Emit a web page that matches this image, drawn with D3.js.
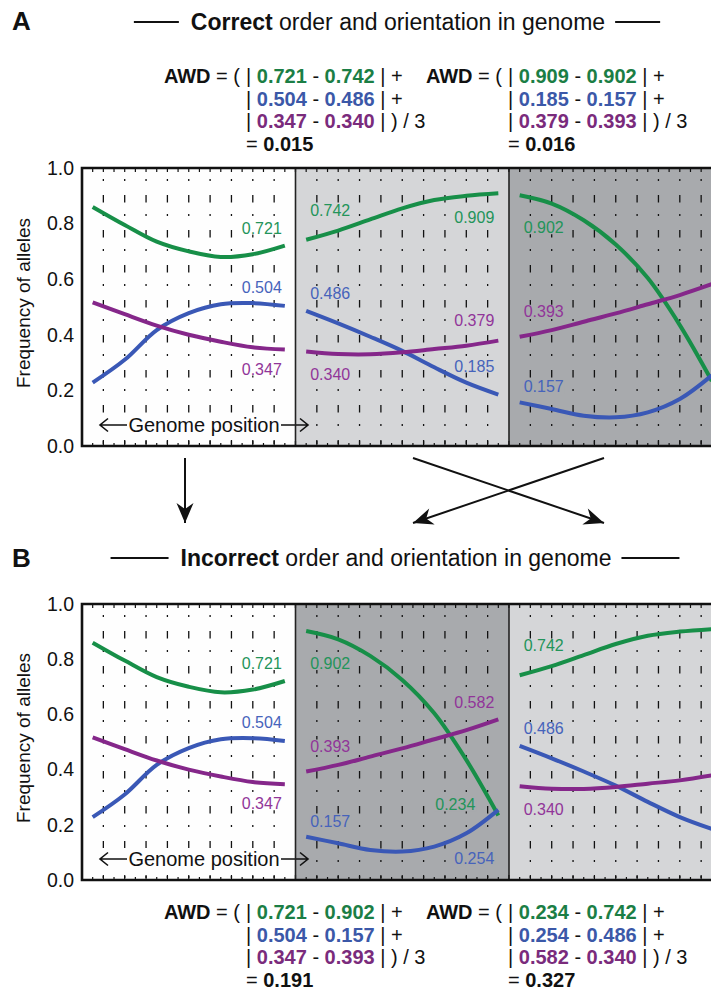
<!DOCTYPE html>
<html>
<head>
<meta charset="utf-8">
<script src="https://cdnjs.cloudflare.com/ajax/libs/d3/7.8.5/d3.min.js"></script>
<style>
  body { margin: 0; background: #fff; }
  svg { display: block; font-family: "Liberation Sans", Arial, sans-serif; }
  text { white-space: pre; }
</style>
</head>
<body>
<svg id="fig" width="711" height="997"></svg>
<script>
// allele frequencies along each contig, sampled at these genome positions (0..10 per contig)
var positions = [0.5, 2, 3.5, 5, 6.5, 8, 9.5];
var contigs = ["white", "light", "dark"];
var greenFreq = [
  [0.860, 0.795, 0.735, 0.700, 0.680, 0.690, 0.721],
  [0.742, 0.775, 0.815, 0.855, 0.885, 0.900, 0.909],
  [0.902, 0.872, 0.812, 0.725, 0.604, 0.435, 0.234]
];
var blueFreq = [
  [0.228, 0.310, 0.417, 0.478, 0.510, 0.514, 0.504],
  [0.486, 0.441, 0.393, 0.342, 0.283, 0.228, 0.185],
  [0.157, 0.133, 0.109, 0.103, 0.121, 0.169, 0.254]
];
var purpleFreq = [
  [0.517, 0.474, 0.433, 0.400, 0.375, 0.355, 0.347],
  [0.340, 0.331, 0.330, 0.337, 0.349, 0.361, 0.379],
  [0.393, 0.417, 0.447, 0.477, 0.510, 0.543, 0.582]
];
var orderA = [0, 1, 2];   // correct
var orderB = [0, 2, 1];   // incorrect
var yTicks = [0, 0.2, 0.4, 0.6, 0.8, 1.0];

var series = [greenFreq, blueFreq, purpleFreq];
var lineColors = ["#178f48", "#3a58b6", "#85278a"];
var textColors = ["#23945a", "#4663bb", "#913599"];
var formulaColors = ["#1b7e45", "#3b58a8", "#7a2b7c"];
var contigFill = ["#fefefe", "#d5d6d8", "#a8aaad"];

// label offsets [dx, dy] from the line's start / end point
var labelLayout = [
  { end: [[-3, -12], [-3, -13], [-3, 25]] },
  { start: [[4, -24], [4, -12], [4, 29]], end: [[-4, 30], [-4, -23], [-4, -15]] },
  { start: [[4, 38], [4, -10], [4, -20]], end: [[-23, -5], [-4, 54], [-4, -11]] }
];

var svg = d3.select("#fig");
svg.append("rect").attr("width", 711).attr("height", 997).attr("fill", "#fff");

var x0 = 82, segW = 213.5;
var fmt3 = d3.format(".3f");

function drawPanel(order, top, bottom) {
  var g = svg.append("g");
  var y = d3.scaleLinear().domain([0, 1]).range([bottom, top]);
  var xs = [];

  order.forEach(function(c, slot) {
    var x = d3.scaleLinear().domain([0, 10]).range([x0 + slot * segW, x0 + (slot + 1) * segW]);
    xs.push(x);
    var seg = g.append("g");
    seg.append("rect")
      .attr("x", x(0)).attr("y", top)
      .attr("width", segW).attr("height", bottom - top)
      .attr("fill", contigFill[c]);
    // dashed grid
    seg.selectAll(".grid").data(d3.range(1, 10)).enter().append("line")
      .attr("x1", function(d) { return x(d); }).attr("x2", function(d) { return x(d); })
      .attr("y1", top + 11).attr("y2", bottom - 2)
      .attr("stroke", "#111").attr("stroke-width", 1.3)
      .attr("stroke-dasharray", "2,14,7.5,11.5");
    // ticks top & bottom
    var half = d3.range(0, 21).map(function(d) { return d / 2; });
    seg.selectAll(".tb").data(half).enter().append("line")
      .attr("x1", function(d) { return x(d); }).attr("x2", function(d) { return x(d); })
      .attr("y1", bottom).attr("y2", function(d) { return bottom - (d % 1 === 0 ? 5 : 3); })
      .attr("stroke", "#111").attr("stroke-width", 1.2);
    seg.selectAll(".tt").data(half).enter().append("line")
      .attr("x1", function(d) { return x(d); }).attr("x2", function(d) { return x(d); })
      .attr("y1", top).attr("y2", top + 4)
      .attr("stroke", "#111").attr("stroke-width", 1.2);

    var line = d3.line()
      .x(function(d) { return x(d[0]); })
      .y(function(d) { return y(d[1]); })
      .curve(d3.curveCatmullRom.alpha(0.5));

    var lay = labelLayout[c];
    function lbl(i, xx, yy, anchor, v) {
      var t = seg.append("text")
        .attr("x", xx).attr("y", yy).attr("text-anchor", anchor)
        .attr("font-size", 16).attr("fill", textColors[i])
        .text(fmt3(v));
      var bb = t.node().getBBox();
      seg.insert("rect", function() { return t.node(); })
        .attr("x", bb.x - 1).attr("y", bb.y + 2)
        .attr("width", bb.width + 2).attr("height", bb.height - 4)
        .attr("fill", contigFill[c]);
    }

    series.forEach(function(s, i) {
      var vals = s[c];
      var n = vals.length - 1;
      if (lay.start) {
        lbl(i, x(positions[0]) + lay.start[i][0], y(vals[0]) + lay.start[i][1], "start", vals[0]);
      }
      if (lay.end && slot < 2) {
        lbl(i, x(positions[n]) + lay.end[i][0], y(vals[n]) + lay.end[i][1], "end", vals[n]);
      }
    });
    series.forEach(function(s, i) {
      var vals = s[c];
      seg.append("path")
        .datum(positions.map(function(p, k) { return [p, vals[k]]; }))
        .attr("d", line)
        .attr("fill", "none")
        .attr("stroke", lineColors[i])
        .attr("stroke-width", 4)
        .attr("stroke-linecap", "butt");
    });
  });

  // genome position note (over the first two contigs)
  var gy = bottom - 21;
  g.append("rect").attr("x", xs[0](0.6)).attr("y", gy - 11)
    .attr("width", xs[0](10) - xs[0](0.6) - 1).attr("height", 22).attr("fill", contigFill[order[0]]);
  g.append("text").attr("x", 204).attr("y", gy + 7)
    .attr("text-anchor", "middle").attr("font-size", 20).attr("fill", "#111")
    .text("Genome position");
  var ah = g.append("g").attr("stroke", "#111").attr("stroke-width", 1.6).attr("fill", "none");
  ah.append("path").attr("d", "M100," + gy + "H127M108," + (gy - 6.5) + "L100," + gy + "L108," + (gy + 6.5));
  ah.append("path").attr("d", "M281," + gy + "H308M300," + (gy - 6.5) + "L308," + gy + "L300," + (gy + 6.5));

  // borders
  for (var s = 1; s < 3; s++) {
    g.append("line").attr("x1", x0 + s * segW).attr("x2", x0 + s * segW)
      .attr("y1", top).attr("y2", bottom).attr("stroke", "#222").attr("stroke-width", 1.6);
  }
  g.append("path")
    .attr("d", "M" + (x0 + 3 * segW) + "," + top + "H" + x0 + "V" + bottom + "H" + (x0 + 3 * segW))
    .attr("fill", "none").attr("stroke", "#111").attr("stroke-width", 2.6);

  // y axis
  var ax = g.append("g").attr("transform", "translate(" + x0 + ",0)")
    .call(d3.axisLeft(y).tickValues(yTicks).tickFormat(d3.format(".1f")).tickSize(0).tickPadding(8));
  ax.select(".domain").remove();
  ax.selectAll("text").attr("font-size", 19.5).attr("font-family", "Liberation Sans, Arial, sans-serif").attr("fill", "#111");

  g.append("text")
    .attr("transform", "translate(30," + ((top + bottom) / 2 - 4) + ") rotate(-90)")
    .attr("text-anchor", "middle").attr("font-size", 19).attr("fill", "#111")
    .text("Frequency of alleles");

  return y;
}

function drawFormula(barX, baseY, left, right) {
  var rowH = 22.5, fs = 20;
  var pairs = series.map(function(s) {
    return [s[left][s[left].length - 1], s[right][0]];
  });
  var awd = d3.mean(pairs, function(p) { return Math.abs(p[0] - p[1]); });
  var pre = svg.append("text").attr("x", barX - 6).attr("y", baseY)
    .attr("text-anchor", "end").attr("font-size", fs).attr("fill", "#111");
  pre.append("tspan").attr("font-weight", "bold").text("AWD");
  pre.append("tspan").text(" = (");
  var tails = [" | +", " | +", " | ) / 3"];
  pairs.forEach(function(p, i) {
    var t = svg.append("text").attr("x", barX).attr("y", baseY + i * rowH)
      .attr("font-size", fs).attr("fill", "#111");
    t.append("tspan").text("| ");
    t.append("tspan").attr("font-weight", "bold").attr("fill", formulaColors[i]).text(fmt3(p[0]));
    t.append("tspan").text(" - ");
    t.append("tspan").attr("font-weight", "bold").attr("fill", formulaColors[i]).text(fmt3(p[1]));
    t.append("tspan").text(tails[i]);
  });
  var r = svg.append("text").attr("x", barX).attr("y", baseY + 3 * rowH)
    .attr("font-size", fs).attr("fill", "#111");
  r.append("tspan").text("= ");
  r.append("tspan").attr("font-weight", "bold").text(fmt3(awd));
}

function drawTitle(letter, letterY, word, rest, cx, ty, lineLen) {
  svg.append("text").attr("x", 12).attr("y", letterY)
    .attr("font-size", 26).attr("font-weight", "bold").attr("fill", "#111").text(letter);
  var t = svg.append("text").attr("x", cx).attr("y", ty)
    .attr("text-anchor", "middle").attr("font-size", 23).attr("fill", "#111");
  t.append("tspan").attr("font-weight", "bold").text(word);
  t.append("tspan").text(rest);
  var w = t.node().getComputedTextLength();
  svg.append("line").attr("x1", cx - w / 2 - 12 - lineLen).attr("x2", cx - w / 2 - 12)
    .attr("y1", ty - 8).attr("y2", ty - 8).attr("stroke", "#111").attr("stroke-width", 2);
  svg.append("line").attr("x1", cx + w / 2 + 10).attr("x2", cx + w / 2 + 10 + lineLen)
    .attr("y1", ty - 8).attr("y2", ty - 8).attr("stroke", "#111").attr("stroke-width", 2);
}

// Panel A
drawTitle("A", 30, "Correct", " order and orientation in genome", 398, 30, 45);
drawFormula(246, 83, orderA[0], orderA[1]);
drawFormula(508, 83, orderA[1], orderA[2]);
drawPanel(orderA, 168, 446);

// arrows between panels
var defs = svg.append("defs");
defs.append("marker").attr("id", "ah")
  .attr("markerUnits", "userSpaceOnUse").attr("markerWidth", 24).attr("markerHeight", 20)
  .attr("viewBox", "-22 -10 24 20").attr("refX", 0).attr("refY", 0).attr("orient", "auto")
  .append("path").attr("d", "M0,0L-20,-8.5L-14,0L-20,8.5Z").attr("fill", "#111");
[[185, 458, 185, 523], [413, 458, 604, 523], [604, 458, 413, 523]].forEach(function(a) {
  svg.append("line").attr("x1", a[0]).attr("y1", a[1]).attr("x2", a[2]).attr("y2", a[3])
    .attr("stroke", "#111").attr("stroke-width", 2).attr("marker-end", "url(#ah)");
});

// Panel B
drawTitle("B", 567, "Incorrect", " order and orientation in genome", 396, 566, 58);
drawPanel(orderB, 604, 880);
drawFormula(246, 919, orderB[0], orderB[1]);
drawFormula(508, 919, orderB[1], orderB[2]);
</script>
</body>
</html>
